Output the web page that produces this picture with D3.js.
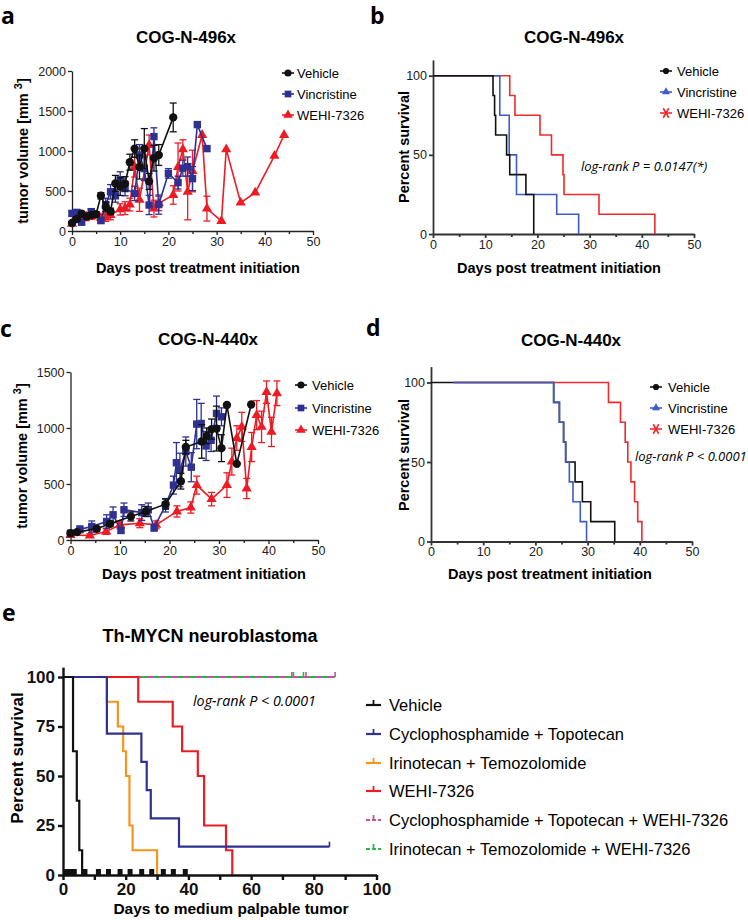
<!DOCTYPE html>
<html><head><meta charset="utf-8">
<script src="https://cdn.jsdelivr.net/npm/d3@7"></script>
<style>
body{margin:0;background:#fff;}
svg{display:block;}
</style></head><body>
<svg id="chart" width="748" height="920"></svg>
<script>
// ---------------- DATA ----------------
// Panel a: COG-N-496x tumour volume (mean ± SEM)
const aVehicleDays = [0,1,2,3,4,5,6,7,8,9,10,11,12,13,14,15,16,17,18,21];
const aVehicleVol  = [100,150,215,180,200,210,440,300,245,595,555,590,860,1030,800,1030,620,910,950,1420];
const aVehicleErr  = [15,25,30,25,30,30,40,60,40,100,110,90,100,110,150,250,100,160,130,180];
const aVincDays = [0,1,2,4,6,7,8,9,10,11,13,14,15,16,17,18,20,22,23,24,25,26,28];
const aVincVol  = [220,230,110,240,130,330,490,440,640,530,470,950,780,325,1180,330,720,605,785,805,655,1330,1030];
const aVincErr  = [30,40,30,40,30,80,90,80,100,90,90,130,150,120,110,120,60,80,100,120,150,0,0];
const aWehiDays = [0,1,3,4,6,7,8,10,11,12,13,14,16,17,18,21,22,23,24,25,27,28,31,32,35,38,42,44];
const aWehiVol  = [90,140,180,185,165,170,200,270,285,330,800,390,1075,280,345,450,800,1020,490,750,1200,280,125,1020,355,480,940,1200];
const aWehiErr  = [20,30,50,40,40,50,60,70,80,80,125,145,125,105,90,115,300,120,350,260,0,155,0,0,0,0,0,0];

// Panel c: COG-N-440x tumour volume
const cVehicleDays = [0,1.3,5.3,8,12.2,15.2,19.2,22.3,23.3,26.5,27.5,28.5,29.5,30.5,31.6,33.6,36.5];
const cVehicleVol  = [60,70,100,145,210,255,320,525,830,880,930,990,995,820,1205,680,1210];
const cVehicleErr  = [10,12,20,25,40,45,45,70,60,150,70,90,200,120,0,0,0];
const cVincDays = [0,1.9,4.3,7.3,8.6,10.2,10.8,14.4,15.7,16.9,19.2,20.8,21.4,22.1,23.3,24.4,25.5,26.4,27.4,28.4,29.5,30.5];
const cVincVol  = [60,95,120,165,225,85,270,245,270,110,310,490,690,625,790,650,1035,1040,840,890,1130,1100];
const cVincErr  = [10,30,50,60,70,20,60,70,60,30,60,80,180,150,130,130,220,180,130,100,155,80];
const cWehiDays = [0,3.9,7.2,10,14,17.3,21.5,24.3,25.5,28.5,31.6,32.6,33.6,34.6,35.6,36.6,37.6,38.6,39.6,40.6,41.7];
const cWehiVol  = [45,40,75,135,150,135,255,290,490,365,490,700,910,1010,460,830,1115,1010,1320,965,1310];
const cWehiErr  = [10,15,25,35,40,35,50,50,80,60,110,120,110,130,90,130,130,140,100,130,110];

// Panel b: COG-N-496x survival (time, percent)
const bVehicleT = [0,11.5,11.8,12.0,14.1,14.7,17.8,19.3];
const bVehicleS = [100,87.5,75,62.5,50,37.5,25,0];
const bVincT = [0,12.8,14.6,16.0,23.7,27.9];
const bVincS = [100,75,50,25,12.5,0];
const bWehiT = [0,14.7,15.7,20.5,22.7,24.9,25.1,31.8,42.5];
const bWehiS = [100,87.5,75,62.5,50,37.5,25,12.5,0];

// Panel d: COG-N-440x survival
const dVehicleT = [0,23.5,24.6,25.4,25.8,27.6,29.0,30.6,35.2];
const dVehicleS = [100,87.5,75,62.5,50,37.5,25,12.5,0];
const dVincT = [4.3,23.5,24.6,25.4,25.8,26.5,27.2,28.6,29.8];
const dVincS = [100,87.5,75,62.5,50,37.5,25,12.5,0];
const dWehiT = [4.3,34.0,36.3,37.2,37.7,38.3,39.0,39.6,40.4];
const dWehiS = [100,87.5,75,62.5,50,37.5,25,12.5,0];

// Panel e: Th-MYCN survival
const eVehicleT = [0,3.2,4.4,5.2,6.1];
const eVehicleS = [100,62.5,37.5,12.5,0];
const eCyTopoT = [0,14,25,26.7,28,37,85];
const eCyTopoS = [100,71.4,57.1,42.9,28.6,14.3,14.3];
const eIriTemoT = [0,14,17.5,19.2,20.1,21.2,22.2,30];
const eIriTemoS = [100,87.5,75,62.5,50,25,12.5,0];
const eWehiT = [0,24,35,38,43,45,52,54];
const eWehiS = [100,87.5,75,62.5,50,25,12.5,0];
const eCyTopoWehiT = [0,86.8];
const eCyTopoWehiS = [100,100];
const eIriTemoWehiT = [0,86.8];
const eIriTemoWehiS = [100,100];
const eCyTopoCensor = [85];
const eCyTopoWehiCensor = [73,77.5,86.8];
const eIriTemoWehiCensor = [73.5,76.7];
const eVehicleZeroBlock = [0,4.4];
const eVehicleZeroMarks = [7,11.3,14.5,18.2,21.4,25.1,28.3,32,35.2,39];

const scatterLegendLabels = ["Vehicle","Vincristine","WEHI-7326"];
const eLegendLabels = ["Vehicle","Cyclophosphamide + Topotecan","Irinotecan + Temozolomide","WEHI-7326","Cyclophosphamide + Topotecan + WEHI-7326","Irinotecan + Temozolomide + WEHI-7326"];
const xTicks50 = [0,10,20,30,40,50];
const xMinor50 = [5,15,25,35,45];
const aYTicks = [0,500,1000,1500,2000];
const cYTicks = [0,500,1000,1500];
const kmYTicks = [0,50,100];
const eXTicks = [0,20,40,60,80,100];
const eXMinor = [10,30,50,70,90];
const eYTicks = [0,25,50,75,100];

// ---------------- DRAWING ----------------
const FONT = '"Liberation Sans", Arial, Helvetica, sans-serif';
const IT = '"Open Sans", "Noto Sans", sans-serif';
const BLACK = '#111', NAVY = '#2E3192', RED = '#ED1C24', KMBLUE = '#3D5CC4', KMRED = '#EF2B2D';
const ORANGE = '#F7941D', MAGENTA = '#C9509C', GREEN = '#2DB34A';
const svg = d3.select('#chart');
const fmt = d3.format('d');

function txt(x, y, s, o) {
  const t = svg.append('text').attr('x', x).attr('y', y).text(s)
    .attr('font-family', o.ff || FONT).attr('font-size', o.fs).attr('font-weight', o.fw || 'normal')
    .attr('text-anchor', o.anchor || 'start').attr('fill', o.fill || '#000');
  if (o.italic) t.attr('font-style', 'italic');
  if (o.rot) t.attr('transform', `rotate(-90,${x},${y})`);
  return t;
}

function axes(x, y, o) {
  const g = svg.append('g');
  const gx = g.append('g').attr('transform', `translate(0,${y(0)})`)
    .call(d3.axisBottom(x).tickValues(o.xTicks).tickFormat(fmt).tickSize(o.tick).tickSizeOuter(0).tickPadding(o.pad));
  if (o.xMinor) {
    const gm = g.append('g').attr('transform', `translate(0,${y(0)})`)
      .call(d3.axisBottom(x).tickValues(o.xMinor).tickSize(o.minor).tickFormat(''));
    gm.select('.domain').remove();
    gm.selectAll('line').attr('stroke', o.color).attr('stroke-width', o.sw);
  }
  const gy = g.append('g').attr('transform', `translate(${x(0)},0)`)
    .call(d3.axisLeft(y).tickValues(o.yTicks).tickFormat(fmt).tickSize(o.tick).tickSizeOuter(0).tickPadding(o.pad));
  [gx, gy].forEach(a => {
    a.attr('font-family', FONT).attr('font-size', o.fs).attr('font-weight', o.fw || 'normal');
    a.select('.domain').attr('stroke', o.color).attr('stroke-width', o.sw);
    a.selectAll('.tick line').attr('stroke', o.color).attr('stroke-width', o.sw);
    a.selectAll('.tick text').attr('fill', o.tc);
  });
}

function scatterSeries(x, y, days, vol, err, color, shape, size) {
  const g = svg.append('g');
  const pts = days.map((d, i) => ({d, v: vol[i], e: err[i]}));
  pts.filter(p => p.e > 0).forEach(p => {
    g.append('line').attr('x1', x(p.d)).attr('x2', x(p.d)).attr('y1', y(p.v - p.e)).attr('y2', y(p.v + p.e))
      .attr('stroke', color).attr('stroke-width', 1.3);
    [p.v - p.e, p.v + p.e].forEach(v => g.append('line').attr('x1', x(p.d) - 3.5).attr('x2', x(p.d) + 3.5)
      .attr('y1', y(v)).attr('y2', y(v)).attr('stroke', color).attr('stroke-width', 1.3));
  });
  g.append('path').attr('d', d3.line().x(p => x(p.d)).y(p => y(p.v))(pts))
    .attr('fill', 'none').attr('stroke', color).attr('stroke-width', 1.6);
  g.selectAll('path.m').data(pts).join('path').attr('class', 'm')
    .attr('d', d3.symbol(shape, size)).attr('transform', p => `translate(${x(p.d)},${y(p.v)})`)
    .attr('fill', color);
}

function km(x, y, T, S, color, w, dash, offset) {
  const pts = T.map((t, i) => [x(t), y(S[i])]);
  const p = svg.append('path').attr('d', d3.line().curve(d3.curveStepAfter)(pts))
    .attr('fill', 'none').attr('stroke', color).attr('stroke-width', w);
  if (dash) p.attr('stroke-dasharray', dash).attr('stroke-dashoffset', offset || 0);
}

function censor(x, y, T, level, color, w, h) {
  T.forEach(t => svg.append('line').attr('x1', x(t)).attr('x2', x(t)).attr('y1', y(level)).attr('y2', y(level) - h)
    .attr('stroke', color).attr('stroke-width', w));
}

function asterisk(cx, cy, r, color) {
  const g = svg.append('g').attr('stroke', color).attr('stroke-width', 1.6);
  [60, 120].forEach(a => {
    const dx = r * Math.cos(a * Math.PI / 180), dy = r * Math.sin(a * Math.PI / 180);
    g.append('line').attr('x1', cx - dx).attr('y1', cy - dy).attr('x2', cx + dx).attr('y2', cy + dy);
  });
}

function scatterLegend(xm, xt, ys) {
  const items = [[BLACK, d3.symbolCircle, 40], [NAVY, d3.symbolSquare, 45], [RED, d3.symbolTriangle, 40]];
  items.forEach((it, i) => {
    svg.append('line').attr('x1', xm - 6).attr('x2', xm + 6).attr('y1', ys[i]).attr('y2', ys[i]).attr('stroke', it[0]).attr('stroke-width', 1.6);
    svg.append('path').attr('d', d3.symbol(it[1], it[2])()).attr('transform', `translate(${xm},${ys[i]})`).attr('fill', it[0]);
    txt(xt, ys[i] + 4.6, scatterLegendLabels[i], {fs: 13});
  });
}

function kmLegend(xm, xt, ys) {
  const cols = [BLACK, KMBLUE, KMRED];
  cols.forEach((c, i) => {
    svg.append('line').attr('x1', xm - 6).attr('x2', xm + 6).attr('y1', ys[i]).attr('y2', ys[i]).attr('stroke', c).attr('stroke-width', 1.6);
    if (i === 0) svg.append('path').attr('d', d3.symbol(d3.symbolCircle, 30)()).attr('transform', `translate(${xm},${ys[i]})`).attr('fill', c);
    if (i === 1) svg.append('path').attr('d', d3.symbol(d3.symbolTriangle, 28)()).attr('transform', `translate(${xm},${ys[i]})`).attr('fill', c);
    if (i === 2) asterisk(xm, ys[i], 5.5, c);
    txt(xt, ys[i] + 4.6, scatterLegendLabels[i], {fs: 13});
  });
}

const axStyleSmall = {tick: 4, minor: 3, pad: 2, fs: 12.5, color: '#222', sw: 1.3, tc: '#222'};
const axStyleKM = {tick: 4, minor: 3, pad: 2, fs: 12.5, color: '#333', sw: 1.8, tc: '#222'};

// ---- Panel a ----
const aX = d3.scaleLinear([0, 50], [72, 313]);
const aY = d3.scaleLinear([0, 2000], [231, 71]);
axes(aX, aY, {...axStyleSmall, xTicks: xTicks50, xMinor: xMinor50, yTicks: aYTicks});
scatterSeries(aX, aY, aWehiDays, aWehiVol, aWehiErr, RED, d3.symbolTriangle, 45);
scatterSeries(aX, aY, aVincDays, aVincVol, aVincErr, NAVY, d3.symbolSquare, 55);
scatterSeries(aX, aY, aVehicleDays, aVehicleVol, aVehicleErr, BLACK, d3.symbolCircle, 55);
scatterLegend(288, 297, [73, 94, 115]);
txt(186, 43, 'COG-N-496x', {fs: 17, fw: 'bold', anchor: 'middle'});
txt(1, 24, 'a', {fs: 23, fw: 'bold', ff: '"Open Sans", sans-serif'});
txt(198, 273, 'Days post treatment initiation', {fs: 14.5, fw: 'bold', anchor: 'middle'});
{
  const t = txt(28, 151, 'tumor volume [mm ', {fs: 14.5, fw: 'bold', anchor: 'middle', rot: true});
  t.append('tspan').attr('dy', -6).attr('font-size', 11).text('3');
  t.append('tspan').attr('dy', 6).text(']');
}

// ---- Panel b ----
const bX = d3.scaleLinear([0, 50], [433, 694]);
const bY = d3.scaleLinear([0, 110], [234, 234 - 110 * 1.583]);
axes(bX, bY, {...axStyleKM, xTicks: xTicks50, xMinor: xMinor50, yTicks: kmYTicks});
km(bX, bY, bWehiT, bWehiS, KMRED, 1.6);
km(bX, bY, bVincT, bVincS, KMBLUE, 1.6);
km(bX, bY, bVehicleT, bVehicleS, BLACK, 1.6);
kmLegend(666, 677, [71, 92, 113]);
txt(574, 43, 'COG-N-496x', {fs: 17, fw: 'bold', anchor: 'middle'});
txt(370, 24, 'b', {fs: 23, fw: 'bold', ff: '"Open Sans", sans-serif'});
txt(559, 273, 'Days post treatment initiation', {fs: 14.5, fw: 'bold', anchor: 'middle'});
txt(409, 147, 'Percent survival', {fs: 14.5, fw: 'bold', anchor: 'middle', rot: true});
txt(581, 171, 'log-rank P = 0.0147(*)', {fs: 13, ff: IT, italic: true});

// ---- Panel c ----
const cX = d3.scaleLinear([0, 50], [70.5, 318]);
const cY = d3.scaleLinear([0, 1500], [540, 372]);
axes(cX, cY, {...axStyleSmall, xTicks: xTicks50, xMinor: xMinor50, yTicks: cYTicks});
scatterSeries(cX, cY, cWehiDays, cWehiVol, cWehiErr, RED, d3.symbolTriangle, 45);
scatterSeries(cX, cY, cVincDays, cVincVol, cVincErr, NAVY, d3.symbolSquare, 55);
scatterSeries(cX, cY, cVehicleDays, cVehicleVol, cVehicleErr, BLACK, d3.symbolCircle, 55);
scatterLegend(301, 312, [385, 408, 430]);
txt(208, 345, 'COG-N-440x', {fs: 17, fw: 'bold', anchor: 'middle'});
txt(0, 337, 'c', {fs: 23, fw: 'bold', ff: '"Open Sans", sans-serif'});
txt(204, 579, 'Days post treatment initiation', {fs: 14.5, fw: 'bold', anchor: 'middle'});
{
  const t = txt(27, 456, 'tumor volume [mm ', {fs: 14.5, fw: 'bold', anchor: 'middle', rot: true});
  t.append('tspan').attr('dy', -6).attr('font-size', 11).text('3');
  t.append('tspan').attr('dy', 6).text(']');
}

// ---- Panel d ----
const dX = d3.scaleLinear([0, 50], [431, 692]);
const dY = d3.scaleLinear([0, 110], [541.5, 541.5 - 110 * 1.59]);
axes(dX, dY, {...axStyleKM, xTicks: xTicks50, xMinor: xMinor50, yTicks: kmYTicks});
km(dX, dY, dVehicleT, dVehicleS, BLACK, 1.6);
km(dX, dY, dWehiT, dWehiS, KMRED, 1.6);
km(dX, dY, dVincT, dVincS, KMBLUE, 1.6);
kmLegend(656, 668, [387, 408, 429]);
txt(571, 346, 'COG-N-440x', {fs: 17, fw: 'bold', anchor: 'middle'});
txt(366, 336, 'd', {fs: 23, fw: 'bold', ff: '"Open Sans", sans-serif'});
txt(550, 579, 'Days post treatment initiation', {fs: 14.5, fw: 'bold', anchor: 'middle'});
txt(409, 455, 'Percent survival', {fs: 14.5, fw: 'bold', anchor: 'middle', rot: true});
txt(635, 461, 'log-rank P < 0.0001', {fs: 13, ff: IT, italic: true});

// ---- Panel e ----
const eX = d3.scaleLinear([0, 100], [63, 376.5]);
const eY = d3.scaleLinear([0, 105], [875, 875 - 105 * 1.98]);
km(eX, eY, eCyTopoWehiT, eCyTopoWehiS, MAGENTA, 2.2, '6,6', 0);
km(eX, eY, eIriTemoWehiT, eIriTemoWehiS, GREEN, 2.2, '6,6', 6);
censor(eX, eY, eCyTopoWehiCensor, 100, MAGENTA, 1.6, 5);
censor(eX, eY, eIriTemoWehiCensor, 100, GREEN, 1.6, 5);
km(eX, eY, eWehiT, eWehiS, RED, 2.2);
km(eX, eY, eIriTemoT, eIriTemoS, ORANGE, 2.2);
km(eX, eY, eCyTopoT, eCyTopoS, NAVY, 2.2);
censor(eX, eY, eCyTopoCensor, 14.3, NAVY, 1.6, 5);
km(eX, eY, eVehicleT, eVehicleS, BLACK, 2.2);
axes(eX, eY, {tick: 5, minor: 5, pad: 3, fs: 17, fw: 'bold', color: '#111', sw: 2.4, tc: '#111', xTicks: eXTicks, xMinor: eXMinor, yTicks: eYTicks});
svg.append('rect').attr('x', eX(eVehicleZeroBlock[0])).attr('width', eX(eVehicleZeroBlock[1]) - eX(eVehicleZeroBlock[0]))
  .attr('y', eY(0) - 6).attr('height', 7).attr('fill', '#111');
eVehicleZeroMarks.forEach(t => svg.append('rect').attr('x', eX(t) - 2.5).attr('width', 5).attr('y', eY(0) - 6).attr('height', 7).attr('fill', '#111'));
txt(210, 642, 'Th-MYCN neuroblastoma', {fs: 18, fw: 'bold', anchor: 'middle'});
txt(2, 621, 'e', {fs: 23, fw: 'bold', ff: '"Open Sans", sans-serif'});
txt(231, 914, 'Days to medium palpable tumor', {fs: 15.5, fw: 'bold', anchor: 'middle'});
txt(23, 758, 'Percent survival', {fs: 17, fw: 'bold', anchor: 'middle', rot: true});
txt(193, 706, 'log-rank P < 0.0001', {fs: 14.3, ff: IT, italic: true});
{
  const cols = [BLACK, NAVY, ORANGE, RED, MAGENTA, GREEN];
  const ys = [705, 734, 763, 791, 820, 849];
  cols.forEach((c, i) => {
    const y = ys[i];
    const l = svg.append('line').attr('x1', 366).attr('x2', 381).attr('y1', y).attr('y2', y).attr('stroke', c).attr('stroke-width', 2.2);
    if (i >= 4) l.attr('stroke-dasharray', '4,2');
    svg.append('line').attr('x1', 373.5).attr('x2', 373.5).attr('y1', y).attr('y2', y - 5).attr('stroke', c).attr('stroke-width', 1.8);
    txt(389, y + 6, eLegendLabels[i], {fs: 16.5});
  });
}
</script>
</body></html>
